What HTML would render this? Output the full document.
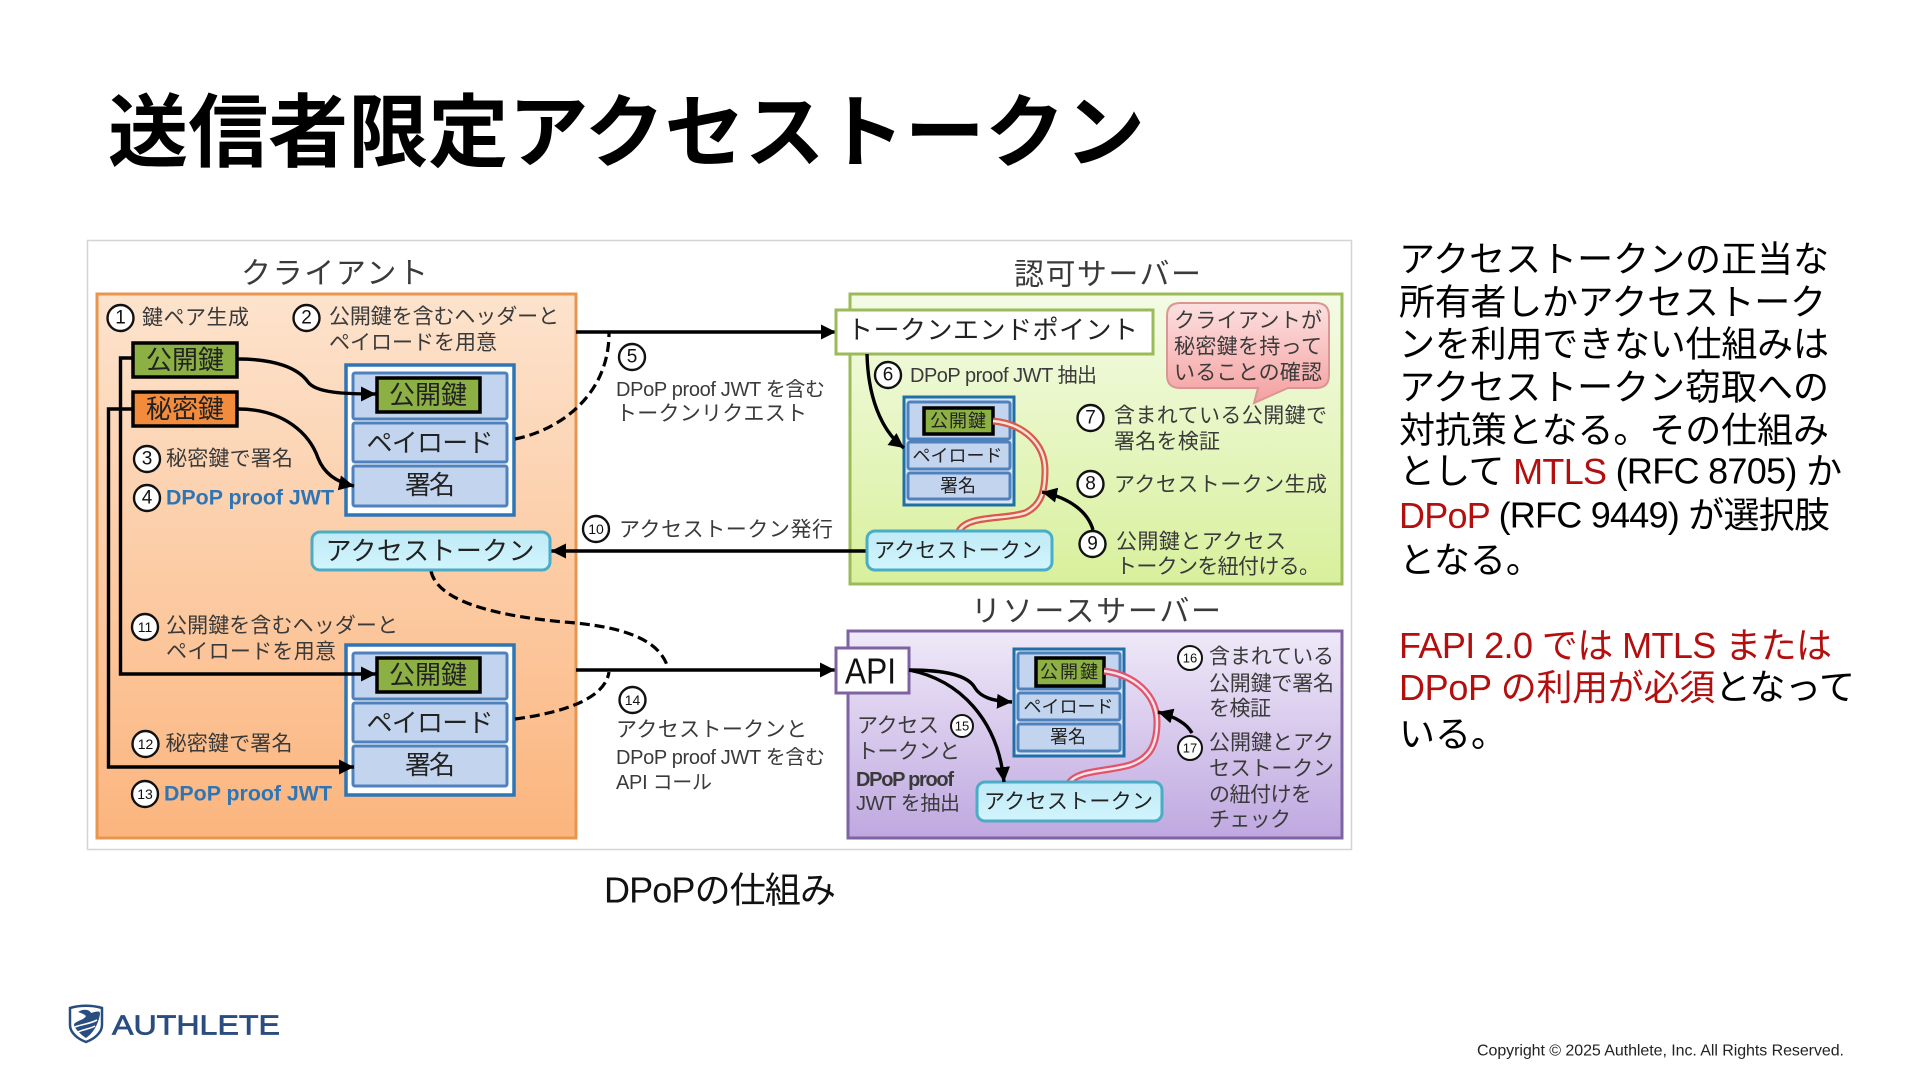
<!DOCTYPE html>
<html lang="ja"><head><meta charset="utf-8"><title>送信者限定アクセストークン</title>
<style>
html,body{margin:0;padding:0;background:#fff;width:1920px;height:1080px;overflow:hidden}
svg{display:block}
text{font-family:"Liberation Sans","Noto Sans CJK JP",sans-serif;dominant-baseline:central}
.l{font-size:21px;fill:#3a3a3a}
.t{font-size:30px;fill:#3a3a3a}
.k{font-size:26px;fill:#222;text-anchor:middle}
.s{font-size:18px;fill:#222;text-anchor:middle}
.b{font-size:21px;fill:#2e75b6;font-weight:700}
.n{font-size:19px;fill:#111;text-anchor:middle}
.nn{font-size:14px;fill:#111;text-anchor:middle}
.c{fill:#fff;stroke:#111;stroke-width:2.4}
.body{font-size:36px;fill:#000}
.red{fill:#b30f0f}
.ln{fill:none;stroke:#000;stroke-width:3.4}
.d{fill:none;stroke:#000;stroke-width:3.2;stroke-dasharray:10 5}
.jo{fill:#fff;stroke:#2e75b6;stroke-width:3.5}
.ji{fill:#c3d5ee;stroke:#4f81bd;stroke-width:3}
.g{fill:#8cb043;stroke:#000;stroke-width:3.5}
</style></head><body>
<svg xmlns="http://www.w3.org/2000/svg" width="1920" height="1080" viewBox="0 0 1920 1080">
<defs>
<linearGradient id="gc" x1="0" y1="0" x2="0" y2="1"><stop offset="0" stop-color="#fde3cd"/><stop offset="1" stop-color="#fbb57e"/></linearGradient>
<linearGradient id="ga" x1="0" y1="0" x2="0" y2="1"><stop offset="0" stop-color="#f4fbe6"/><stop offset="1" stop-color="#d8f09c"/></linearGradient>
<linearGradient id="gr" x1="0" y1="0" x2="0" y2="1"><stop offset="0" stop-color="#efe9f8"/><stop offset="1" stop-color="#bfa8e0"/></linearGradient>
<linearGradient id="gt" x1="0" y1="0" x2="0" y2="1"><stop offset="0" stop-color="#bfeaf6"/><stop offset="1" stop-color="#d2f5fd"/></linearGradient>
<linearGradient id="gb" x1="0" y1="0" x2="0" y2="1"><stop offset="0" stop-color="#fde0e0"/><stop offset="1" stop-color="#f4a0a0"/></linearGradient>
<marker id="a" markerUnits="userSpaceOnUse" markerWidth="16" markerHeight="16" refX="15" refY="7.5" orient="auto"><path d="M0 0L15 7.5L0 15z" fill="#000"/></marker>
</defs>

<text x="108" y="133" textLength="1037" lengthAdjust="spacingAndGlyphs" style="font-size:80px;font-weight:700;fill:#000">送信者限定アクセストークン</text>

<rect x="87.5" y="240.5" width="1264" height="609" fill="#fff" stroke="#d4d4d4" stroke-width="1.5"/>

<!-- group boxes -->
<rect x="97" y="294" width="479" height="544" fill="url(#gc)" stroke="#e8964f" stroke-width="3"/>
<rect x="850" y="294" width="492" height="290" fill="url(#ga)" stroke="#9bbb59" stroke-width="3"/>
<rect x="848" y="631" width="494" height="207" fill="url(#gr)" stroke="#7d64a0" stroke-width="3"/>

<text class="t" x="241" y="274" textLength="187">クライアント</text>
<text class="t" x="1014" y="275" textLength="187">認可サーバー</text>
<text class="t" x="971" y="612" textLength="250">リソースサーバー</text>

<!-- client top JWT -->
<rect class="jo" x="346" y="365" width="168" height="150"/>
<rect class="ji" x="353" y="373" width="154" height="46" rx="2"/>
<rect class="ji" x="353" y="423" width="154" height="39" rx="2"/>
<rect class="ji" x="353" y="466" width="154" height="40" rx="2"/>
<rect class="g" x="377" y="378" width="103" height="34"/>
<text class="k" x="428" y="395" textLength="78">公開鍵</text>
<text class="k" x="430" y="443" textLength="127">ペイロード</text>
<text class="k" x="430" y="485" textLength="50">署名</text>

<!-- client bottom JWT -->
<rect class="jo" x="346" y="645" width="168" height="150"/>
<rect class="ji" x="353" y="653" width="154" height="46" rx="2"/>
<rect class="ji" x="353" y="703" width="154" height="39" rx="2"/>
<rect class="ji" x="353" y="746" width="154" height="40" rx="2"/>
<rect class="g" x="377" y="658" width="103" height="34"/>
<text class="k" x="428" y="675" textLength="78">公開鍵</text>
<text class="k" x="430" y="723" textLength="127">ペイロード</text>
<text class="k" x="430" y="765" textLength="50">署名</text>

<!-- lines left -->
<path class="ln" d="M132 358H120.5V674H376" marker-end="url(#a)"/>
<path class="ln" d="M132 409H108.5V767H354" marker-end="url(#a)"/>
<path class="ln" d="M238 359C275 359 298 368 308 382C316 393 345 394 376 394" marker-end="url(#a)"/>
<path class="ln" d="M238 409C285 409 310 435 318 458C325 476 340 483 354 486" marker-end="url(#a)"/>

<!-- keys -->
<rect x="133" y="343" width="104" height="34" fill="#8cb043" stroke="#000" stroke-width="3.5"/>
<text class="k" x="185" y="360" textLength="78">公開鍵</text>
<rect x="133" y="392" width="104" height="34" fill="#f38b3c" stroke="#000" stroke-width="3.5"/>
<text class="k" x="185" y="409" textLength="78">秘密鍵</text>

<!-- top connectors -->
<path class="ln" d="M576 332H836" marker-end="url(#a)"/>
<path class="d" d="M515 439C560 430 609 395 609 333"/>
<path class="ln" d="M576 670H835" marker-end="url(#a)"/>
<path class="d" d="M515 719C560 713 605 700 609 672"/>
<path class="d" d="M431 571C438 605 510 618 576 623C625 628 660 640 668 668"/>
<path class="ln" d="M866 551H551" marker-end="url(#a)"/>

<!-- client token -->
<rect x="312" y="532" width="238" height="38" rx="8" fill="url(#gt)" stroke="#4bacc6" stroke-width="3"/>
<text class="k" x="430" y="551" textLength="209">アクセストークン</text>

<!-- token endpoint -->
<rect x="836" y="310" width="317" height="44" fill="#fff" stroke="#9bbb59" stroke-width="3"/>
<text class="k" x="992.5" y="330" textLength="291">トークンエンドポイント</text>

<!-- balloon -->
<path d="M1180 303H1316Q1329 303 1329 316V375Q1329 388 1316 388H1288L1254 403L1258 388H1180Q1167 388 1167 375V316Q1167 303 1180 303Z" fill="url(#gb)" stroke="#d99694" stroke-width="2"/>
<text class="l" x="1174" y="321" textLength="148">クライアントが</text>
<text class="l" x="1174" y="347" textLength="148">秘密鍵を持って</text>
<text class="l" x="1174" y="373" textLength="148">いることの確認</text>

<!-- auth JWT -->
<rect x="904" y="397" width="110" height="108" fill="#dde6f5" stroke="#1f6fa8" stroke-width="3"/>
<rect class="ji" x="908" y="402" width="102" height="37" rx="2"/>
<rect class="ji" x="908" y="442" width="102" height="27" rx="2"/>
<rect class="ji" x="908" y="473" width="102" height="26" rx="2"/>
<rect class="g" x="924" y="408" width="69" height="26"/>
<text class="s" x="958" y="421" textLength="56">公開鍵</text>
<text class="s" x="957.5" y="456" textLength="90">ペイロード</text>
<text class="s" x="958" y="486" textLength="36">署名</text>

<path d="M993 421C1025 424 1045 445 1045 470C1045 490 1042 505 1025 513C1002 520 968 515 959 531" fill="none" stroke="#d85a4a" stroke-width="7"/>
<path d="M993 421C1025 424 1045 445 1045 470C1045 490 1042 505 1025 513C1002 520 968 515 959 531" fill="none" stroke="#fbe3d5" stroke-width="2.5"/>

<rect x="867" y="531" width="185" height="39" rx="8" fill="url(#gt)" stroke="#4bacc6" stroke-width="3"/>
<text x="874" y="551" textLength="168" style="font-size:21px;fill:#222">アクセストークン</text>

<path class="ln" d="M867 354C868 395 880 430 904 448" marker-end="url(#a)"/>
<path class="ln" d="M1093 530C1088 512 1070 498 1042 492" marker-end="url(#a)"/>

<!-- API -->
<rect x="836" y="648" width="73" height="45" fill="#fff" stroke="#7d64a0" stroke-width="3"/>
<text x="845" y="671" textLength="51" lengthAdjust="spacingAndGlyphs" style="font-size:36px;fill:#111">API</text>

<!-- resource JWT -->
<rect x="1014" y="649" width="110" height="107" fill="#dde6f5" stroke="#1f6fa8" stroke-width="3"/>
<rect class="ji" x="1018" y="653" width="102" height="36" rx="2"/>
<rect class="ji" x="1018" y="693" width="102" height="27" rx="2"/>
<rect class="ji" x="1018" y="724" width="102" height="27" rx="2"/>
<rect class="g" x="1036" y="658" width="68" height="28"/>
<text class="s" x="1069" y="672" textLength="58">公開鍵</text>
<text class="s" x="1068.5" y="707" textLength="90">ペイロード</text>
<text class="s" x="1068" y="737" textLength="36">署名</text>

<path d="M1104 671C1135 675 1157 695 1157 722C1157 745 1150 758 1130 765C1105 772 1078 770 1069 783" fill="none" stroke="#e0556e" stroke-width="7"/>
<path d="M1104 671C1135 675 1157 695 1157 722C1157 745 1150 758 1130 765C1105 772 1078 770 1069 783" fill="none" stroke="#fbe3e8" stroke-width="2.5"/>

<rect x="977" y="782" width="185" height="39" rx="8" fill="url(#gt)" stroke="#4bacc6" stroke-width="3"/>
<text x="984" y="802" textLength="169" style="font-size:21px;fill:#222">アクセストークン</text>

<path class="ln" d="M909 670C945 670 968 675 975 688C980 696 990 701 1012 702" marker-end="url(#a)"/>
<path class="ln" d="M909 670C960 680 998 720 1004 782" marker-end="url(#a)"/>
<path class="ln" d="M1192 733C1187 724 1176 717 1158 712" marker-end="url(#a)"/>

<!-- labels with numbers -->
<circle class="c" cx="120.5" cy="318" r="13"/><text class="n" x="120.5" y="318">1</text>
<text class="l" x="142" y="318" textLength="107">鍵ペア生成</text>
<circle class="c" cx="306.5" cy="318" r="13"/><text class="n" x="306.5" y="318">2</text>
<text class="l" x="329" y="317" textLength="230">公開鍵を含むヘッダーと</text>
<text class="l" x="329" y="343" textLength="168">ペイロードを用意</text>
<circle class="c" cx="147" cy="459" r="13"/><text class="n" x="147" y="459">3</text>
<text class="l" x="166" y="459" textLength="127">秘密鍵で署名</text>
<circle class="c" cx="147" cy="498" r="13"/><text class="n" x="147" y="498">4</text>
<text class="b" x="166" y="498" textLength="168" lengthAdjust="spacingAndGlyphs">DPoP proof JWT</text>

<circle class="c" cx="596" cy="529" r="13"/><text class="nn" x="596" y="529">10</text>
<text class="l" x="619" y="530" textLength="214">アクセストークン発行</text>
<circle class="c" cx="632" cy="357" r="13"/><text class="n" x="632" y="357">5</text>
<text class="l" x="616" y="390" textLength="209" style="font-size:20px">DPoP proof JWT を含む</text>
<text class="l" x="616" y="414" textLength="191">トークンリクエスト</text>

<circle class="c" cx="888" cy="375" r="13"/><text class="n" x="888" y="375">6</text>
<text class="l" x="910" y="376" textLength="187" style="font-size:20px">DPoP proof JWT 抽出</text>
<circle class="c" cx="1090.5" cy="418" r="13"/><text class="n" x="1090.5" y="418">7</text>
<text class="l" x="1114" y="416" textLength="213">含まれている公開鍵で</text>
<text class="l" x="1114" y="442" textLength="106">署名を検証</text>
<circle class="c" cx="1090.5" cy="484" r="13"/><text class="n" x="1090.5" y="484">8</text>
<text class="l" x="1114" y="485" textLength="213">アクセストークン生成</text>
<circle class="c" cx="1092.5" cy="544" r="13"/><text class="n" x="1092.5" y="544">9</text>
<text class="l" x="1116" y="542" textLength="170">公開鍵とアクセス</text>
<text class="l" x="1116" y="567" textLength="204">トークンを紐付ける。</text>

<circle class="c" cx="145" cy="627" r="13"/><text class="nn" x="145" y="627">11</text>
<text class="l" x="166" y="626" textLength="232">公開鍵を含むヘッダーと</text>
<text class="l" x="166" y="652" textLength="170">ペイロードを用意</text>
<circle class="c" cx="145.5" cy="744" r="13"/><text class="nn" x="145.5" y="744">12</text>
<text class="l" x="165.5" y="744" textLength="127">秘密鍵で署名</text>
<circle class="c" cx="145" cy="794" r="13"/><text class="nn" x="145" y="794">13</text>
<text class="b" x="164" y="794" textLength="168" lengthAdjust="spacingAndGlyphs">DPoP proof JWT</text>

<circle class="c" cx="632.5" cy="700" r="13"/><text class="nn" x="632.5" y="700">14</text>
<text class="l" x="616" y="730" textLength="191">アクセストークンと</text>
<text class="l" x="616" y="758" textLength="209" style="font-size:20px">DPoP proof JWT を含む</text>
<text class="l" x="616" y="783" textLength="96" style="font-size:20px">API コール</text>

<text class="l" x="857" y="726" textLength="82">アクセス</text>
<circle class="c" cx="962" cy="726" r="11" style="stroke-width:2"/><text class="nn" x="962" y="726" style="font-size:13px">15</text>
<text class="l" x="857" y="752" textLength="103">トークンと</text>
<text class="l" x="856" y="780" textLength="98" style="font-size:20px;font-weight:700">DPoP proof</text>
<text class="l" x="856" y="804" textLength="104" style="font-size:20px">JWT を抽出</text>

<circle class="c" cx="1190" cy="658" r="12" style="stroke-width:2"/><text class="nn" x="1190" y="658" style="font-size:13px">16</text>
<text class="l" x="1209" y="657" textLength="125">含まれている</text>
<text class="l" x="1209" y="684" textLength="125">公開鍵で署名</text>
<text class="l" x="1209" y="709" textLength="62">を検証</text>
<circle class="c" cx="1190" cy="748" r="12" style="stroke-width:2"/><text class="nn" x="1190" y="748" style="font-size:13px">17</text>
<text class="l" x="1209" y="743" textLength="125">公開鍵とアク</text>
<text class="l" x="1209" y="769" textLength="125">セストークン</text>
<text class="l" x="1209" y="795" textLength="103">の紐付けを</text>
<text class="l" x="1209" y="820" textLength="82">チェック</text>

<text x="604" y="890" textLength="232" style="font-size:36px;fill:#111">DPoPの仕組み</text>

<!-- body text -->
<text class="body" x="1399" y="259" textLength="430">アクセストークンの正当な</text>
<text class="body" x="1399" y="302" textLength="427">所有者しかアクセストーク</text>
<text class="body" x="1399" y="344" textLength="430">ンを利用できない仕組みは</text>
<text class="body" x="1399" y="387" textLength="430">アクセストークン窃取への</text>
<text class="body" x="1399" y="430" textLength="430">対抗策となる。その仕組み</text>
<text class="body" x="1399" y="471" textLength="443">として <tspan class="red">MTLS</tspan> (RFC 8705) か</text>
<text class="body" x="1399" y="515" textLength="431"><tspan class="red">DPoP</tspan> (RFC 9449) が選択肢</text>
<text class="body" x="1399" y="560">となる。</text>
<text class="body" x="1399" y="645" textLength="433"><tspan class="red">FAPI 2.0 では MTLS または</tspan></text>
<text class="body" x="1399" y="687" textLength="456"><tspan class="red">DPoP の利用が必須</tspan>となって</text>
<text class="body" x="1399" y="734">いる。</text>

<!-- logo -->
<path d="M70 1008C80 1005 92 1005 102 1008V1025C102 1033 94 1039 86 1042C78 1039 70 1033 70 1025Z" fill="#fff" stroke="#2a4d7f" stroke-width="2.5"/>
<path d="M78 1012C84 1008 90 1010 91 1013C100 1010 100 1012 100 1014C98 1026 92 1034 86 1038C80 1034 74 1028 74 1024C78 1020 84 1020 86 1016C84 1014 81 1013 78 1012Z" fill="#2a4d7f"/>
<path d="M75 1027C82 1024 90 1024 97 1020M78 1032C84 1029 90 1029 95 1026" fill="none" stroke="#fff" stroke-width="1.6"/>
<text x="112" y="1025" textLength="168" lengthAdjust="spacingAndGlyphs" style="font-size:28px;fill:#2a4d7f;stroke:#2a4d7f;stroke-width:.7">AUTHLETE</text>

<text x="1477" y="1051" textLength="367" style="font-size:16px;fill:#222">Copyright © 2025 Authlete, Inc. All Rights Reserved.</text>
</svg>
</body></html>
